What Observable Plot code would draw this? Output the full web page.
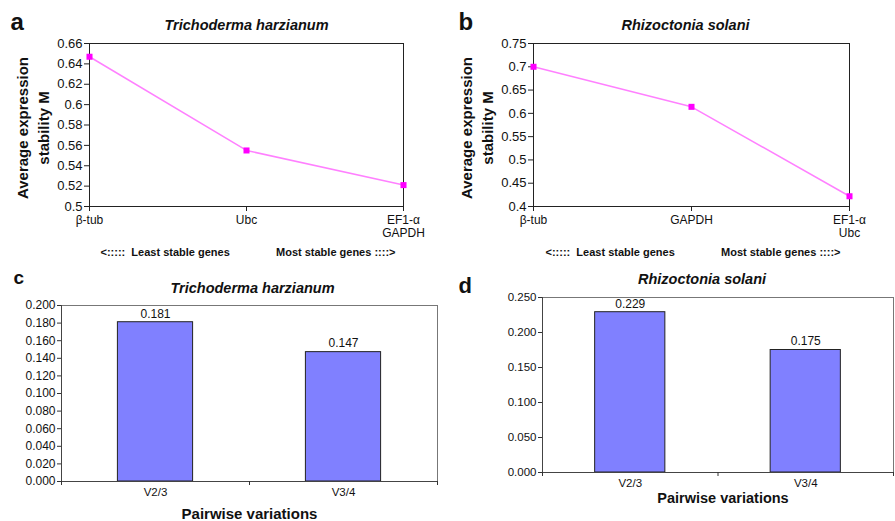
<!DOCTYPE html>
<html>
<head>
<meta charset="utf-8">
<script src="https://cdn.jsdelivr.net/npm/d3@7"></script>
<script src="https://cdn.jsdelivr.net/npm/@observablehq/plot@0.6"></script>
<style>
  html, body { margin: 0; padding: 0; background: #fff; }
  #wrap { position: relative; width: 895px; height: 521px; overflow: hidden; }
  #wrap svg { position: absolute; overflow: visible; }
</style>
</head>
<body>
<div id="wrap"></div>
<script>
// ---- data ----
const genesA = ["β-tub", "Ubc", "EF1-α\nGAPDH"];
const stabilityA = [0.647, 0.555, 0.521];
const yTicksA = [0.5, 0.52, 0.54, 0.56, 0.58, 0.6, 0.62, 0.64, 0.66];

const genesB = ["β-tub", "GAPDH", "EF1-α\nUbc"];
const stabilityB = [0.70, 0.614, 0.422];
const yTicksB = [0.4, 0.45, 0.5, 0.55, 0.6, 0.65, 0.7, 0.75];

const pairs = ["V2/3", "V3/4"];
const pairwiseC = [0.181, 0.147];
const yTicksC = [0, 0.02, 0.04, 0.06, 0.08, 0.1, 0.12, 0.14, 0.16, 0.18, 0.2];
const pairwiseD = [0.229, 0.175];
const yTicksD = [0, 0.05, 0.1, 0.15, 0.2, 0.25];

const titleT = "Trichoderma harzianum";
const titleR = "Rhizoctonia solani";
const yLabelM = "Average expression\nstability M";

const FONT = "'Liberation Sans', Arial, Helvetica, sans-serif";
const wrap = document.getElementById("wrap");

function place(svg, left, top) {
  svg.style.left = left + "px";
  svg.style.top = top + "px";
  wrap.appendChild(svg);
}

function linePanel(o) {
  const data = o.genes.map((g, i) => ({g, v: o.values[i]}));
  return Plot.plot({
    width: o.width, height: 270,
    marginLeft: o.ml, marginRight: o.mr, marginTop: 43, marginBottom: 64,
    style: {fontFamily: FONT, background: "transparent", overflow: "visible", color: "#111"},
    x: {type: "point", domain: o.genes, padding: 0},
    y: {domain: [o.yTicks[0], o.yTicks[o.yTicks.length - 1]]},
    marks: [
      Plot.frame({stroke: "#222", strokeWidth: 1}),
      Plot.axisY({ticks: o.yTicks, tickFormat: d => String(+d.toFixed(2)), tickSize: 5, tickPadding: 2, fontSize: 13, label: null, stroke: "#222"}),
      Plot.axisX({tickSize: 5, tickPadding: 3, fontSize: 12, lineHeight: 1.1, label: null, stroke: "#222"}),
      Plot.line(data, {x: "g", y: "v", stroke: "#ff80ff", strokeWidth: 1.5}),
      Plot.dot(data, {x: "g", y: "v", symbol: "square", r: 3.4, fill: "#ff00ff", stroke: "none"}),
      Plot.text([o.title], {frameAnchor: "top", textAnchor: "middle", lineAnchor: "middle", dx: o.tdx, dy: -18, fontSize: 14.5, fontWeight: "bold", fontStyle: "italic"}),
      Plot.text([yLabelM], {frameAnchor: "left", textAnchor: "middle", lineAnchor: "middle", rotate: -90, dx: -58, dy: 3, fontSize: 15, fontWeight: "bold", lineHeight: 1.45}),
      Plot.text(["<:::::  Least stable genes"], {frameAnchor: "bottom-left", textAnchor: "start", lineAnchor: "middle", dx: o.ldx, dy: 46, fontSize: 11, fontWeight: "bold"}),
      Plot.text(["Most stable genes ::::>"], {frameAnchor: "bottom-right", textAnchor: "end", lineAnchor: "middle", dx: o.rdx, dy: 46, fontSize: 11, fontWeight: "bold"}),
      Plot.text([o.letter], {frameAnchor: "top-left", textAnchor: "start", lineAnchor: "middle", dx: o.lx, dy: -20.7, fontSize: 24, fontWeight: "bold"})
    ]
  });
}

function barPanel(o) {
  const data = o.cats.map((c, i) => ({c, i, v: o.values[i]}));
  const ymax = o.yTicks[o.yTicks.length - 1];
  return Plot.plot({
    width: o.width, height: 251,
    marginLeft: o.ml, marginRight: o.mr, marginTop: o.mt, marginBottom: o.mb,
    style: {fontFamily: FONT, background: "transparent", overflow: "visible", color: "#111"},
    x: {domain: [0, o.cats.length]},
    y: {domain: [0, ymax]},
    marks: [
      Plot.frame({stroke: "#777", strokeWidth: 1}),
      Plot.rect(data, {x1: d => d.i + 0.3, x2: d => d.i + 0.7, y1: 0, y2: "v", fill: "#8080ff", stroke: "#222", strokeWidth: 1}),
      Plot.text(data, {x: d => d.i + 0.5, y: "v", text: d => d.v.toFixed(3), lineAnchor: "middle", dy: -8.5, fontSize: 12}),
      Plot.ruleX([0], {stroke: "#444"}),
      Plot.ruleY([0], {stroke: "#444"}),
      Plot.axisY({ticks: o.yTicks, tickFormat: ".3f", tickSize: 4, tickPadding: 2, fontSize: o.yfs, label: null, stroke: "#333"}),
      Plot.axisX({ticks: d3.range(o.cats.length + 1), tickFormat: () => "", tickSize: 4, label: null, stroke: "#333"}),
      Plot.text(data, {x: d => d.i + 0.5, text: "c", frameAnchor: "bottom", lineAnchor: "middle", dy: 11, fontSize: 11.5}),
      Plot.text(["Pairwise variations"], {frameAnchor: "bottom", textAnchor: "middle", lineAnchor: "middle", dx: o.pdx, dy: o.pdy, fontSize: o.pfs, fontWeight: "bold"}),
      Plot.text([o.title], {frameAnchor: "top", textAnchor: "middle", lineAnchor: "middle", dx: o.tdx, dy: o.tdy, fontSize: 14.5, fontWeight: "bold", fontStyle: "italic"}),
      Plot.text([o.letter], {frameAnchor: "top-left", textAnchor: "start", lineAnchor: "middle", dx: o.lx, dy: o.ly, fontSize: o.lfs, fontWeight: "bold"})
    ]
  });
}

place(linePanel({genes: genesA, values: stabilityA, yTicks: yTicksA, width: 445, ml: 89, mr: 42,
  title: titleT, tdx: 0, ldx: 11, rdx: -8, letter: "a", lx: -79}), 0, 0);

place(linePanel({genes: genesB, values: stabilityB, yTicks: yTicksB, width: 450, ml: 88, mr: 46,
  title: titleR, tdx: -6, ldx: 12, rdx: -9, letter: "b", lx: -75}), 445, 0);

place(barPanel({cats: pairs, values: pairwiseC, yTicks: yTicksC, width: 445, ml: 61, mr: 8, mt: 35, mb: 40,
  yfs: 12, pdx: 0, pdy: 33, pfs: 15, title: titleT, tdx: 3, tdy: -17, letter: "c", lx: -48, ly: -28, lfs: 19}), 0, 270);

place(barPanel({cats: pairs, values: pairwiseD, yTicks: yTicksD, width: 450, ml: 97, mr: 2, mt: 27, mb: 49,
  yfs: 11.5, pdx: 5, pdy: 26, pfs: 14.5, title: titleR, tdx: -16, tdy: -18, letter: "d", lx: -84, ly: -12, lfs: 22}), 445, 270);
</script>
</body>
</html>
